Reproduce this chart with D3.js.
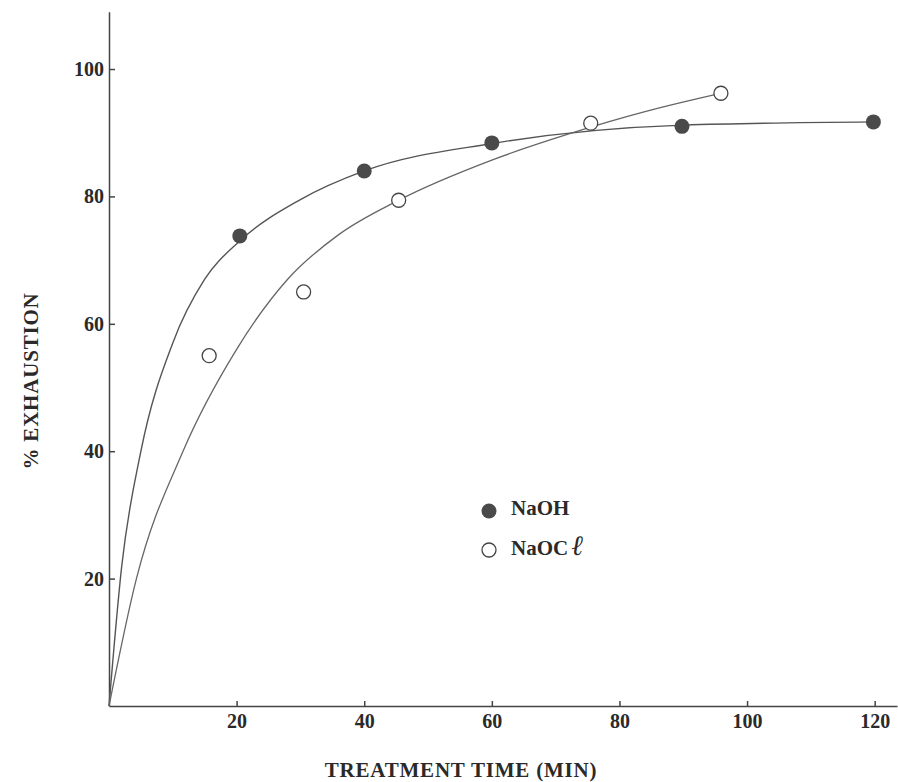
<!DOCTYPE html>
<html>
<head>
<meta charset="utf-8">
<script src="https://cdn.jsdelivr.net/npm/d3@7"></script>
<style>
  body { margin: 0; background: #fff; }
  text { font-family: "Liberation Serif", "DejaVu Serif", serif; font-weight: bold; fill: #2a2a2a; }
  .axis path, .axis line { stroke: #444; stroke-width: 1.5; }
</style>
</head>
<body>
<svg id="chart"></svg>
<script>
// Size of the picture
const width = 898;
const height = 782;

// Measured points (treatment time in min, % exhaustion)
const naohTime = [20.5, 40, 60, 89.8, 119.8];
const naohValue = [73.8, 84, 88.4, 91, 91.7];
const naoclTime = [15.7, 30.5, 45.4, 75.5, 95.9];
const naoclValue = [55, 65, 79.4, 91.5, 96.2];

// Hand drawn fitted curves
const naohCurveTime = [0, 2, 5, 10, 15, 20.5, 30, 40, 60, 90, 120];
const naohCurveValue = [0, 22, 40, 57, 67, 73, 79.5, 84, 88.3, 91.2, 91.7];
const naoclCurveTime = [0, 4.3, 11.6, 20, 28, 36, 45.4, 60, 72.7, 84, 96];
const naoclCurveValue = [0, 20, 40, 56, 67, 74, 79.4, 85.7, 90, 93.3, 96.2];

// Axes ticks and labels
const xTicks = [20, 40, 60, 80, 100, 120];
const yTicks = [20, 40, 60, 80, 100];
const xTitle = "TREATMENT TIME (MIN)";
const yTitle = "% EXHAUSTION";
const legendNames = ["NaOH", "NaOC"];

const svg = d3.select("#chart")
  .attr("width", width)
  .attr("height", height);

// Scales (axis lines run past the last tick like the original)
const x = d3.scaleLinear().domain([0, 123.5]).range([109, 897]);
const y = d3.scaleLinear().domain([0, 109]).range([706, 11.7]);

// X axis
svg.append("g")
  .attr("class", "axis")
  .attr("transform", `translate(0, ${y(0)})`)
  .call(d3.axisBottom(x).tickValues(xTicks).tickSizeInner(-5).tickSizeOuter(0).tickPadding(8));

// Y axis
svg.append("g")
  .attr("class", "axis")
  .attr("transform", `translate(${x(0)}, 0)`)
  .call(d3.axisLeft(y).tickValues(yTicks).tickSizeInner(-6).tickSizeOuter(0).tickPadding(5));

svg.selectAll(".axis text")
  .attr("font-size", 20)
  .attr("font-family", null)
  .attr("fill", null);

// Axis titles
svg.append("text")
  .attr("x", 461)
  .attr("y", 777)
  .attr("text-anchor", "middle")
  .attr("font-size", 21)
  .attr("letter-spacing", 0.8)
  .text(xTitle);

svg.append("text")
  .attr("transform", "translate(38, 381) rotate(-90)")
  .attr("text-anchor", "middle")
  .attr("font-size", 21)
  .attr("letter-spacing", 0.8)
  .text(yTitle);

// Curves
const line = d3.line()
  .x(d => x(d[0]))
  .y(d => y(d[1]))
  .curve(d3.curveMonotoneX);

svg.append("path")
  .datum(d3.zip(naohCurveTime, naohCurveValue))
  .attr("d", line)
  .attr("fill", "none")
  .attr("stroke", "#555")
  .attr("stroke-width", 1.4);

svg.append("path")
  .datum(d3.zip(naoclCurveTime, naoclCurveValue))
  .attr("d", line)
  .attr("fill", "none")
  .attr("stroke", "#666")
  .attr("stroke-width", 1.3);

// Points
svg.append("g").selectAll("circle")
  .data(d3.zip(naohTime, naohValue))
  .enter().append("circle")
  .attr("cx", d => x(d[0]))
  .attr("cy", d => y(d[1]))
  .attr("r", 7.5)
  .attr("fill", "#4a4a4a");

svg.append("g").selectAll("circle")
  .data(d3.zip(naoclTime, naoclValue))
  .enter().append("circle")
  .attr("cx", d => x(d[0]))
  .attr("cy", d => y(d[1]))
  .attr("r", 7)
  .attr("fill", "#fff")
  .attr("stroke", "#444")
  .attr("stroke-width", 1.3);

// Legend
const legend = svg.append("g").attr("transform", "translate(489, 511)");

legend.append("circle").attr("cx", 0).attr("cy", 0).attr("r", 7.5).attr("fill", "#4a4a4a");
legend.append("circle").attr("cx", 0).attr("cy", 39).attr("r", 7)
  .attr("fill", "#fff").attr("stroke", "#444").attr("stroke-width", 1.3);

legend.append("text").attr("x", 22).attr("y", 4).attr("font-size", 21).text(legendNames[0]);
const t2 = legend.append("text").attr("x", 22).attr("y", 44).attr("font-size", 21);
t2.append("tspan").text(legendNames[1]);
t2.append("tspan")
  .attr("dx", 3)
  .attr("font-size", 28)
  .attr("font-weight", "normal")
  .attr("font-style", "italic")
  .style("font-family", "'DejaVu Serif', serif")
  .text("\u2113");
</script>
</body>
</html>
